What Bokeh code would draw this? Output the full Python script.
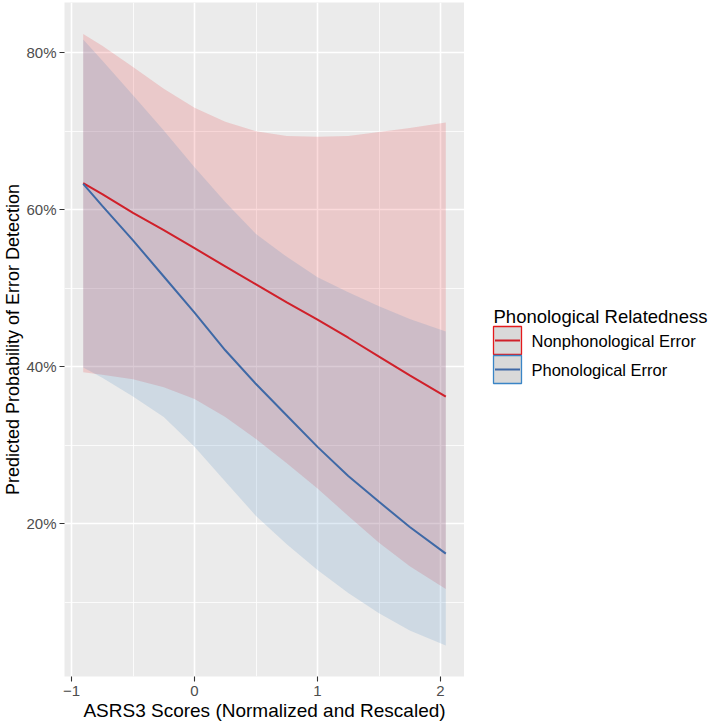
from bokeh.plotting import figure
from bokeh.models import Range1d, FixedTicker, ColumnDataSource
from bokeh.layouts import row
from bokeh.embed import file_html
from bokeh.resources import INLINE
from bokeh.core.properties import value

# ---------------- data ----------------
x_scores = [-0.905, -0.75, -0.5, -0.25, 0.0, 0.25, 0.5, 0.75, 1.0, 1.25, 1.5, 1.75, 2.043]

nonphon_fit = [63.4, 62.0, 59.6, 57.4, 55.1, 52.8, 50.5, 48.2, 46.0, 43.7, 41.3, 38.9, 36.2]
nonphon_upper = [82.4, 80.9, 78.2, 75.4, 73.0, 71.2, 70.0, 69.4, 69.3, 69.4, 69.9, 70.4, 71.1]
nonphon_lower = [39.3, 39.0, 38.4, 37.4, 35.9, 33.6, 30.8, 27.7, 24.5, 21.0, 17.6, 14.6, 11.7]

phon_fit = [63.3, 60.5, 56.1, 51.5, 46.9, 42.1, 37.8, 33.8, 29.8, 26.1, 22.8, 19.6, 16.2]
phon_upper = [81.7, 79.0, 74.6, 70.1, 65.4, 61.0, 56.9, 54.0, 51.4, 49.5, 47.7, 46.1, 44.5]
phon_lower = [39.9, 38.6, 36.2, 33.6, 29.8, 25.4, 21.0, 17.4, 14.1, 11.2, 8.6, 6.4, 4.5]

x_ticks = [-1, 0, 1, 2]
x_tick_labels = ["\u22121", "0", "1", "2"]
x_minor = [-0.5, 0.5, 1.5]
y_ticks = [20, 40, 60, 80]
y_tick_labels = ["20%", "40%", "60%", "80%"]
y_minor = [10, 30, 50, 70]

series_names = ["Nonphonological Error", "Phonological Error"]
legend_title = "Phonological Relatedness"
x_title = "ASRS3 Scores (Normalized and Rescaled)"
y_title = "Predicted Probability of Error Detection"

# ---------------- styles ----------------
FONT = "Liberation Sans"
RED_FILL = "#E41A1C"
BLUE_FILL = "#377EB8"
RED_LINE = "#D0202A"
BLUE_LINE = "#3F69A6"
RED_KEY = "#E41A1C"
BLUE_KEY = "#3A85C6"
PANEL = "#EBEBEB"

W_MAIN, W_LEG, H = 464, 250, 725

p = figure(width=W_MAIN, height=H, title=None,
           x_range=Range1d(-1.057, 2.195), y_range=Range1d(0.55, 86.4),
           output_backend="svg", toolbar_location=None,
           min_border_left=63, min_border_right=0, min_border_top=2, min_border_bottom=49,
           background_fill_color=PANEL, border_fill_color="white", outline_line_color=None)

src_np = ColumnDataSource(dict(x=x_scores, fit=nonphon_fit, lo=nonphon_lower, hi=nonphon_upper))
src_ph = ColumnDataSource(dict(x=x_scores, fit=phon_fit, lo=phon_lower, hi=phon_upper))

p.varea(x="x", y1="lo", y2="hi", source=src_np, fill_color=RED_FILL, fill_alpha=0.16)
p.varea(x="x", y1="lo", y2="hi", source=src_ph, fill_color=BLUE_FILL, fill_alpha=0.16)
p.line(x="x", y="fit", source=src_np, line_color=RED_LINE, line_width=2)
p.line(x="x", y="fit", source=src_ph, line_color=BLUE_LINE, line_width=2)

# axes
p.xaxis.ticker = FixedTicker(ticks=x_ticks, minor_ticks=x_minor)
p.yaxis.ticker = FixedTicker(ticks=y_ticks, minor_ticks=y_minor)
p.xgrid.ticker = FixedTicker(ticks=x_ticks, minor_ticks=x_minor)
p.ygrid.ticker = FixedTicker(ticks=y_ticks, minor_ticks=y_minor)
p.xaxis.major_label_overrides = dict(zip(x_ticks, x_tick_labels))
p.yaxis.major_label_overrides = dict(zip(y_ticks, y_tick_labels))

for ax in (p.xaxis[0], p.yaxis[0]):
    ax.axis_line_color = None
    ax.major_tick_line_color = "#333333"
    ax.major_tick_line_width = 1.1
    ax.major_tick_in = 0
    ax.major_tick_out = 5
    ax.minor_tick_line_color = None
    ax.major_label_text_font = FONT
    ax.major_label_text_font_size = "15px"
    ax.major_label_text_color = "#4D4D4D"
    ax.axis_label_text_font = FONT
    ax.axis_label_text_font_style = "normal"
    ax.axis_label_text_color = "black"

p.xaxis.major_label_standoff = 4
p.yaxis.major_label_standoff = 3
p.xaxis.axis_label = x_title
p.xaxis.axis_label_text_font_size = "19px"
p.xaxis.axis_label_standoff = 1
p.yaxis.axis_label = y_title
p.yaxis.axis_label_text_font_size = "18px"
p.yaxis.axis_label_standoff = 0

for g in (p.xgrid[0], p.ygrid[0]):
    g.grid_line_color = "white"
    g.grid_line_width = 1.6
    g.minor_grid_line_color = "white"
    g.minor_grid_line_width = 0.8

# ---------------- legend panel ----------------
q = figure(frame_width=W_LEG, frame_height=H, title=None,
           x_range=Range1d(0, W_LEG), y_range=Range1d(H, 0),
           output_backend="svg", toolbar_location=None,
           min_border_left=0, min_border_right=0, min_border_top=0, min_border_bottom=0,
           x_axis_type=None, y_axis_type=None, outline_line_color=None,
           background_fill_color="white", border_fill_color="white")

key_left = 29
key_size = 28
row0_top = 324
row_step = 29
label_gap = 10
title_baseline = 314

n = len(series_names)
tops = [row0_top + i * row_step for i in range(n)]
centers = [t + key_size / 2 for t in tops]
q.quad(left=[key_left] * n, right=[key_left + key_size] * n,
       top=tops, bottom=[t + key_size for t in tops],
       fill_color="#D9D9D9", line_color=[RED_KEY, BLUE_KEY], line_width=1.3)
q.segment(x0=[key_left + 1.5] * n, x1=[key_left + key_size - 1.5] * n,
          y0=centers, y1=centers, line_color=[RED_LINE, BLUE_LINE], line_width=2)
q.text(x=[key_left + key_size + label_gap] * n, y=centers, text=series_names,
       text_font=value(FONT), text_font_size="16.5px", text_color="black",
       text_baseline="middle", text_align="left")
q.text(x=[key_left], y=[title_baseline], text=[legend_title],
       text_font=value(FONT), text_font_size="18.5px", text_color="black",
       text_baseline="alphabetic", text_align="left")

layout = row(p, q)
open("out.html", "w").write(file_html(layout, INLINE))
